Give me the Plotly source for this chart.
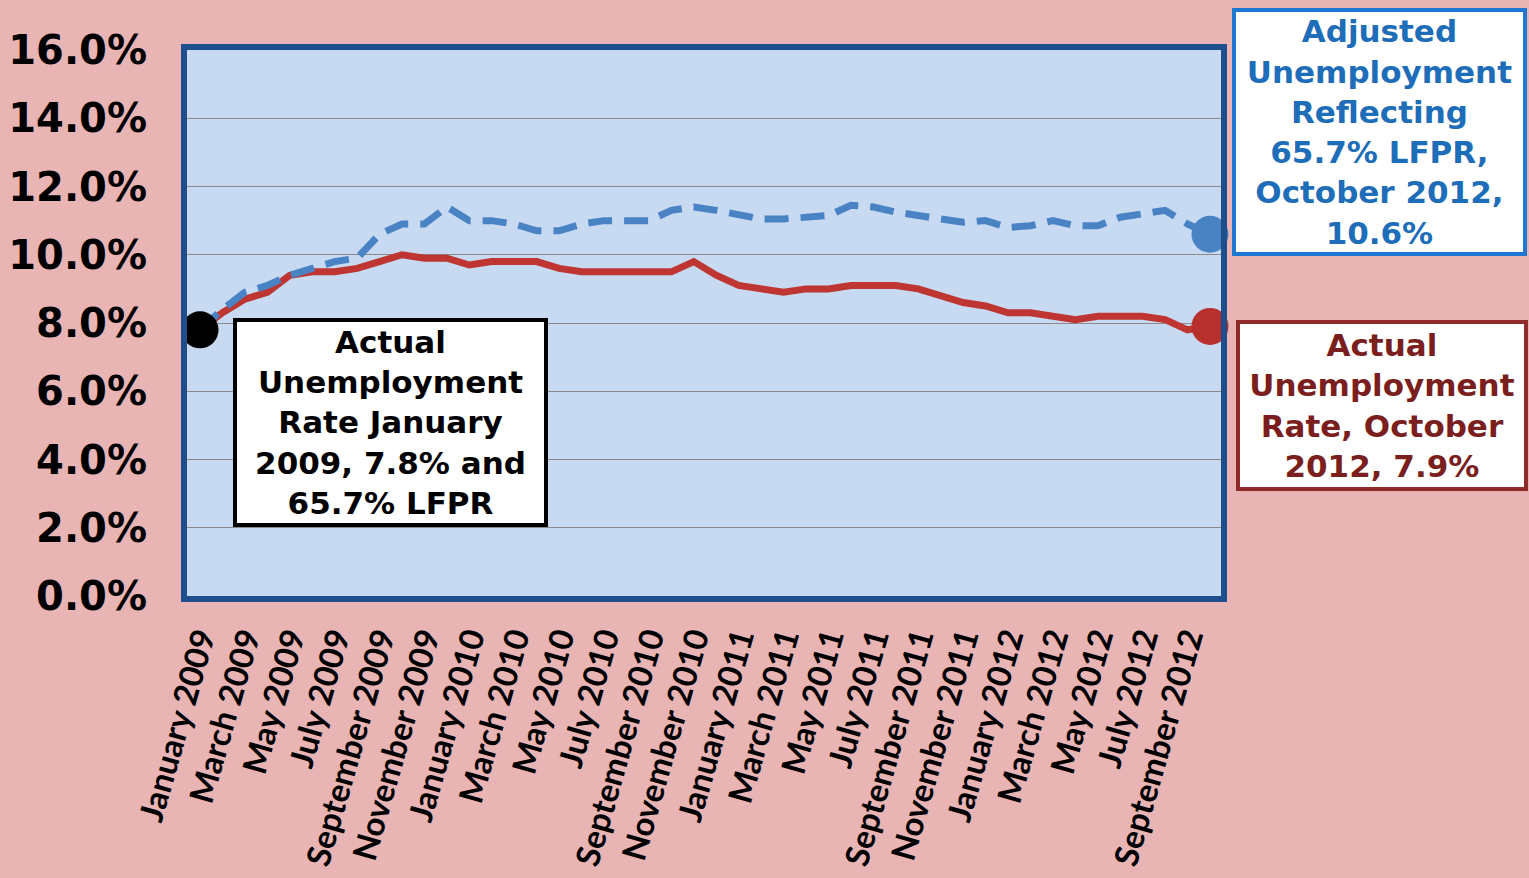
import plotly.graph_objects as go

months = ["January", "February", "March", "April", "May", "June", "July",
          "August", "September", "October", "November", "December"]
labels = [f"{m} {y}" for y in (2009, 2010, 2011, 2012) for m in months][:46]

actual = [7.8, 8.3, 8.7, 8.9, 9.4, 9.5, 9.5, 9.6, 9.8, 10.0, 9.9, 9.9,
          9.7, 9.8, 9.8, 9.8, 9.6, 9.5, 9.5, 9.5, 9.5, 9.5, 9.8, 9.4,
          9.1, 9.0, 8.9, 9.0, 9.0, 9.1, 9.1, 9.1, 9.0, 8.8, 8.6, 8.5,
          8.3, 8.3, 8.2, 8.1, 8.2, 8.2, 8.2, 8.1, 7.8, 7.9]
adjusted = [7.8, 8.4, 8.9, 9.1, 9.4, 9.6, 9.8, 9.9, 10.6, 10.9, 10.9, 11.4,
            11.0, 11.0, 10.9, 10.7, 10.7, 10.9, 11.0, 11.0, 11.0, 11.3, 11.4, 11.3,
            11.2, 11.05, 11.05, 11.1, 11.15, 11.45, 11.4, 11.25, 11.15, 11.0, 10.95, 11.0,
            10.8, 10.85, 11.0, 10.85, 10.85, 11.1, 11.2, 11.3, 10.9, 10.6]

ytick_vals = [0, 2, 4, 6, 8, 10, 12, 14, 16]
ytick_text = [f"{v:.1f}%" for v in ytick_vals]

x = list(range(len(labels)))

fig = go.Figure()
fig.add_trace(go.Scatter(x=x, y=actual, mode="lines",
                         line=dict(color="#BE3532", width=7), cliponaxis=False))
fig.add_trace(go.Scatter(x=x, y=adjusted, mode="lines",
                         line=dict(color="#4A83C4", width=7, dash="24px,12px"),
                         cliponaxis=False))
# end point markers
fig.add_trace(go.Scatter(x=[x[0]], y=[actual[0]], mode="markers",
                         marker=dict(color="black", size=37), cliponaxis=False))
fig.add_trace(go.Scatter(x=[x[-1]], y=[adjusted[-1]], mode="markers",
                         marker=dict(color="#4A83C4", size=37), cliponaxis=False))
fig.add_trace(go.Scatter(x=[x[-1]], y=[actual[-1]], mode="markers",
                         marker=dict(color="#B8302D", size=37), cliponaxis=False))

box_font = "DejaVu Sans"
fig.add_annotation(xref="paper", yref="paper", x=0.1968, y=0.3178,
                   xanchor="center", yanchor="middle",
                   text="Actual<br>Unemployment<br>Rate January<br>2009, 7.8% and<br>65.7% LFPR",
                   showarrow=False, font=dict(family=box_font, size=31, color="black", weight="bold"),
                   bgcolor="white", bordercolor="black", borderwidth=4, borderpad=0,
                   width=307, height=201)
fig.add_annotation(xref="paper", yref="paper", x=1.1533, y=0.8507,
                   xanchor="center", yanchor="middle",
                   text="Adjusted<br>Unemployment<br>Reflecting<br>65.7% LFPR,<br>October 2012,<br>10.6%",
                   showarrow=False, font=dict(family=box_font, size=31, color="#1E6DB8", weight="bold"),
                   bgcolor="white", bordercolor="#1F78D1", borderwidth=4, borderpad=0,
                   width=287, height=240)
fig.add_annotation(xref="paper", yref="paper", x=1.1557, y=0.3498,
                   xanchor="center", yanchor="middle",
                   text="Actual<br>Unemployment<br>Rate, October<br>2012, 7.9%",
                   showarrow=False, font=dict(family=box_font, size=31, color="#7A1E1E", weight="bold"),
                   bgcolor="white", bordercolor="#8E2A2A", borderwidth=4, borderpad=1,
                   width=282, height=161)

fig.update_layout(
    width=1529, height=878,
    margin=dict(l=187, r=308, t=50, b=282),
    paper_bgcolor="#E8B4B4",
    plot_bgcolor="#C7DAF1",
    showlegend=False,
)
fig.update_xaxes(range=[-0.58, 45.49], tickvals=x[::2], ticktext=labels[::2],
                 tickangle=-74, tickfont=dict(family="Lato", size=33, color="black", weight="bold"),
                 showgrid=False, zeroline=False, showline=True, mirror=True,
                 linecolor="#1F4E8C", linewidth=6, automargin=False,
                 ticks="outside", ticklen=4, tickcolor="rgba(0,0,0,0)")
fig.update_yaxes(range=[0, 16], tickvals=ytick_vals, ticktext=ytick_text,
                 tickfont=dict(family="DejaVu Sans", size=40, color="black", weight="bold"),
                 showgrid=True, gridcolor="#8A8A8A", gridwidth=1, zeroline=False,
                 showline=True, mirror=True, linecolor="#1F4E8C", linewidth=6, automargin=False,
                 ticks="outside", ticklen=26, tickcolor="rgba(0,0,0,0)")

fig.write_html("out.html", config={"displayModeBar": False},
               post_script="document.body.style.margin='0px';")
